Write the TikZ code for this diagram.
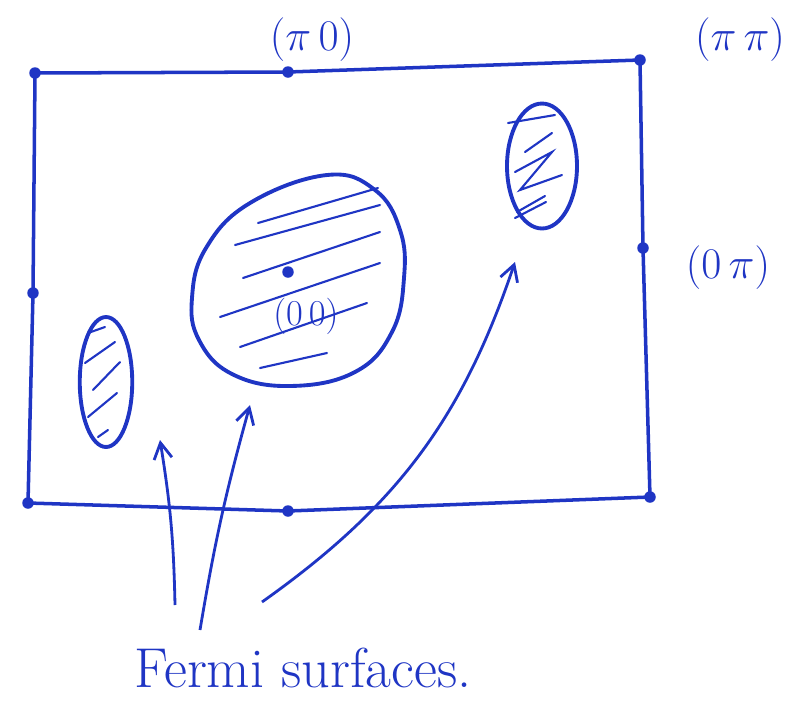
\documentclass[tikz,border=0pt]{standalone}
\usepackage{amsmath}
\usepackage{tikz}
\usetikzlibrary{arrows.meta,positioning,calc,shapes.geometric}
\definecolor{ink}{HTML}{1F35C4}

\begin{document}
\begin{tikzpicture}[
  x=0.02cm,y=-0.02cm,
  font=\sffamily,>={Straight Barb[length=3.2mm,width=3.6mm]},
  bz/.style={draw=ink,line width=2pt,line join=round},
  kpt/.style={circle,fill=ink,inner sep=0pt,minimum size=0.23cm},
  klbl/.style={text=ink,font=\fontsize{24}{28}\selectfont},
  pocket/.style={draw=ink,line width=2.2pt,ellipse,inner sep=0pt},
  hatch/.style={ink,line width=1.2pt,line cap=round},
  ptr/.style={->,ink,line width=1.6pt}
]
\useasboundingbox (0,0) rectangle (812,711);

% zone corners and edge midpoints
\node[kpt] (cTL) at (35,73)   {};
\node[kpt] (mT)  at (288,72)  {};
\node[kpt] (cTR) at (640,60)  {};
\node[kpt] (mR)  at (643,248) {};
\node[kpt] (cBR) at (650,497) {};
\node[kpt] (mB)  at (288,511) {};
\node[kpt] (cBL) at (28,503)  {};
\node[kpt] (mL)  at (33,293)  {};
\node[kpt] (g00) at (288,272) {};

\draw[bz] (cTL.center) -- (mT.center) -- (cTR.center) -- (mR.center)
  -- (cBR.center) -- (mB.center) -- (cBL.center) -- (mL.center) -- cycle;

% labels
\node[klbl] (lpi0)  at (312,40)  {$(\pi\,0)$};
\node[klbl] (lpipi) at (740,40)  {$(\pi\,\pi)$};
\node[klbl] (l0pi)  at (728,268) {$(0\,\pi)$};
\node[klbl,font=\fontsize{20}{24}\selectfont] (l00) at (306,316) {$(0\,0)$};

% central pocket
\draw[bz,line width=2.2pt] plot[smooth cycle,tension=0.7] coordinates {
  (327,175) (375,190) (400,230) (404,278) (392,332) (355,372)
  (290,386) (232,374) (199,340) (192,298) (206,248) (250,203)};
\draw[hatch] (258,223) -- (378,188);
\draw[hatch] (235,245) -- (380,205);
\draw[hatch] (243,278) -- (380,232);
\draw[hatch] (220,317) -- (380,263);
\draw[hatch] (240,347) -- (367,303);
\draw[hatch] (260,368) -- (327,353);

% side pockets
\node[pocket,minimum width=1.4cm,minimum height=2.5cm] (rp) at (542,166) {};
\draw[hatch] (508,123) -- (555,115);
\draw[hatch] (525,152) -- (552,133);
\draw[hatch] (515,172) -- (552,152) -- (520,190) -- (562,175);
\draw[hatch] (517,212) -- (545,196);
\draw[hatch] (515,218) -- (546,202);

\node[pocket,minimum width=1.05cm,minimum height=2.6cm] (lp) at (106,382) {};
\draw[hatch] (88,333) -- (105,327);
\draw[hatch] (85,363) -- (115,342);
\draw[hatch] (93,390) -- (120,362);
\draw[hatch] (88,417) -- (117,393);
\draw[hatch] (98,437) -- (108,430);

% caption and pointers
\node[text=ink,font=\fontsize{32}{36}\selectfont] (fs) at (303,668) {Fermi surfaces.};
\coordinate (t1) at (175,605);
\coordinate (t2) at (200,630);
\coordinate (t3) at (262,602);
\coordinate (h1) at (160,440);
\coordinate (h2) at (250,405);
\coordinate (h3) at (515,262);
\draw[ptr] (t1) to[bend right=4] (h1);
\draw[ptr] (t2) to[bend left=3] (h2);
\draw[ptr] (t3) to[bend right=18] (h3);
\end{tikzpicture}
\end{document}
